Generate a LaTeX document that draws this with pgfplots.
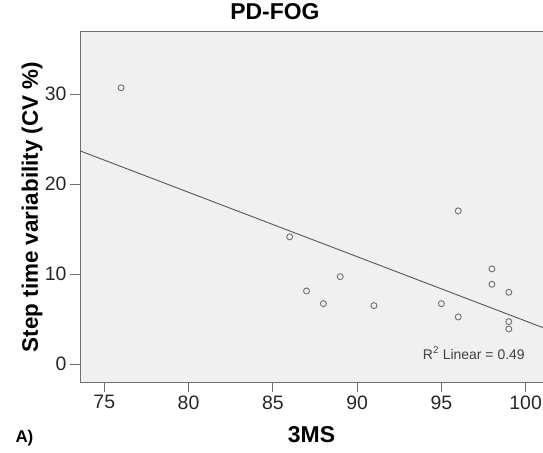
\documentclass[border=0pt]{standalone}
\usepackage{fontspec}
\setmainfont{Liberation Sans}
\usepackage{pgfplots}
\pgfplotsset{compat=1.18}
\definecolor{bgfill}{HTML}{F0F0F0}
\definecolor{framec}{HTML}{707070}
\definecolor{linec}{HTML}{555555}
\begin{document}
\begin{tikzpicture}[x=1bp,y=1bp]
\begin{axis}[
  at={(0,0)}, anchor=south west,
  width=463bp, height=350bp, scale only axis,
  xmin=73.56, xmax=101.03, ymin=-2, ymax=36.9,
  xtick={75,80,...,100}, ytick={0,10,20,30},
  tick align=outside, tick pos=left, major tick length=10bp,
  axis background/.style={fill=bgfill},
  axis line style={framec, line width=1pt},
  tick style={framec, line width=1pt},
  ticklabel style={font=\fontsize{19.5}{22}\selectfont, text=black!85},
  /pgf/number format/assume math mode=true,
  title={\textbf{PD-FOG}},
  title style={font=\fontsize{23}{26}\selectfont, at={(axis description cs:0.421,1)}, anchor=center, yshift=14bp},
  xlabel={\textbf{3MS}},
  xlabel style={font=\fontsize{23}{26}\selectfont, at={(axis description cs:0.5,0)}, anchor=center, yshift=-53bp},
  ylabel={\textbf{Step time variability (CV \%)}},
  ylabel style={font=\fontsize{22.5}{26}\selectfont, at={(axis description cs:-0.1037,0.5)}, anchor=center},
  clip=false,
]
\addplot[only marks, mark=o, mark size=3bp, mark options={draw=framec, line width=0.9pt}]
  coordinates {(76,30.7) (86,14.13) (87,8.12) (88,6.71) (89,9.71) (91,6.49) (95,6.71)
  (96,17.02) (96,5.23) (98,10.57) (98,8.86) (99,7.97) (99,4.71) (99,3.89)};
\addplot[linec, line width=0.9pt] coordinates {(73.56,23.69) (101.03,4.04)};
\node[anchor=base west, font=\fontsize{14}{16}\selectfont, text=black!75] at (axis cs:93.7,0.55) {R\textsuperscript{2} Linear = 0.49};
\end{axis}
\node[anchor=base west, font=\fontsize{17}{20}\selectfont\bfseries] at (-68,-61) {A)};
\pgfresetboundingbox
\path[use as bounding box] (-80,-71) rectangle (463,382);
\end{tikzpicture}
\end{document}
